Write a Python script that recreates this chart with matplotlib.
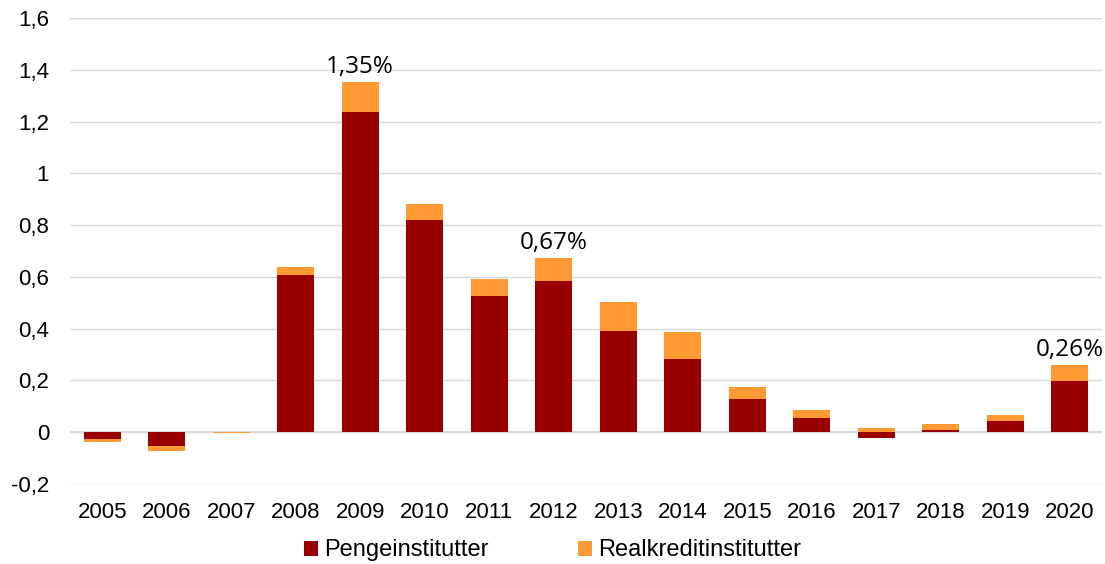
"""Nedskrivninger i pct. af udlån og garantier, penge- og realkreditinstitutter."""

import matplotlib

matplotlib.use("Agg")
import matplotlib.pyplot as plt
import numpy as np

YEARS = ["2005", "2006", "2007", "2008", "2009", "2010", "2011", "2012",
         "2013", "2014", "2015", "2016", "2017", "2018", "2019", "2020"]
PENGE = [-0.027, -0.053, 0.0, 0.607, 1.237, 0.819, 0.526, 0.584,
         0.390, 0.282, 0.128, 0.055, -0.022, 0.010, 0.045, 0.197]
REAL = [-0.012, -0.019, -0.003, 0.031, 0.116, 0.062, 0.065, 0.088,
        0.112, 0.104, 0.046, 0.030, 0.018, 0.023, 0.022, 0.063]
LABELS = {"2009": "1,35%", "2012": "0,67%", "2020": "0,26%"}
Y_TICKS = [-0.2, 0, 0.2, 0.4, 0.6, 0.8, 1, 1.2, 1.4, 1.6]

PENGE_COLOR = "#990000"
REAL_COLOR = "#FF9933"


def fmt(v: float) -> str:
    return f"{v:g}".replace(".", ",")


def main() -> None:
    plt.rcParams["font.family"] = ["Liberation Sans", "DejaVu Sans"]
    fig = plt.figure(figsize=(11.05, 5.64), dpi=100)
    ax = fig.add_axes([0.0633, 0.1418, 0.934, 0.8262])

    x = np.arange(len(YEARS))
    penge = np.array(PENGE)
    real = np.array(REAL)
    # stack each series on its own side of zero
    pos_base = np.where(penge > 0, penge, 0)
    neg_base = np.where(penge < 0, penge, 0)
    real_base = np.where(real >= 0, pos_base, neg_base)

    width = 0.57
    ax.bar(x, penge, width, color=PENGE_COLOR, label="Pengeinstitutter", zorder=3)
    ax.bar(x, real, width, bottom=real_base, color=REAL_COLOR,
           label="Realkreditinstitutter", zorder=3)

    for i, year in enumerate(YEARS):
        if year in LABELS:
            top = max(penge[i], 0) + max(real[i], 0)
            ax.text(i, top + 0.012, LABELS[year], ha="center", va="bottom",
                    fontsize=17.5, family=["Open Sans", "DejaVu Sans"], color="black")

    ax.set_xlim(-0.5, len(YEARS) - 0.5)
    ax.set_ylim(-0.2, 1.6)
    ax.set_yticks(Y_TICKS)
    ax.set_yticklabels([fmt(v) for v in Y_TICKS])
    ax.set_xticks(x)
    ax.set_xticklabels(YEARS)
    ax.tick_params(axis="both", length=0, labelsize=16, colors="black")
    ax.tick_params(axis="y", pad=15)
    ax.tick_params(axis="x", pad=13)
    ax.yaxis.grid(True, color="#d9d9d9", linewidth=1.0, zorder=0)
    ax.axhline(0, color="#d9d9d9", linewidth=1.5, zorder=2)
    for spine in ax.spines.values():
        spine.set_visible(False)

    fig.legend(loc="lower center", bbox_to_anchor=(0.5, -0.033), ncol=2, frameon=False,
               fontsize=17, handlelength=0.6, handleheight=0.6, handletextpad=0.25,
               columnspacing=3.8)
    fig.savefig("out.png", dpi=100)
    plt.close(fig)


if __name__ == "__main__":
    main()
